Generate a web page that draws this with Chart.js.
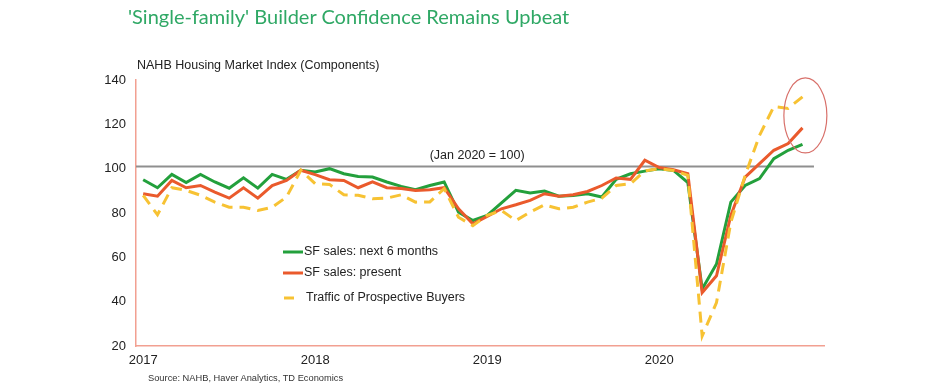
<!DOCTYPE html>
<html>
<head>
<meta charset="utf-8">
<script src="https://cdn.jsdelivr.net/npm/chart.js@4.4.1/dist/chart.umd.min.js"></script>
<style>
  html, body { margin: 0; padding: 0; background: #fff; }
  #wrap { position: relative; width: 945px; height: 386px; overflow: hidden; }
  #hmi-chart { position: absolute; left: 0; top: 0; }
  .title { position: absolute; left: 128px; top: 4px; font-family: Lato, sans-serif; font-size: 20px; color: #2fa865; white-space: nowrap; }
  .subtitle { position: absolute; left: 137px; top: 58px; font-family: "Liberation Sans", Arial, sans-serif; font-size: 12.5px; color: #222; white-space: nowrap; }
  .source { position: absolute; left: 148px; top: 373px; font-family: "Liberation Sans", Arial, sans-serif; font-size: 9.3px; color: #333; white-space: nowrap; }
</style>
</head>
<body>
<div id="wrap">
  <canvas id="hmi-chart" width="945" height="386"></canvas>
  <div class="title">'Single-family' Builder Confidence Remains Upbeat</div>
  <div class="subtitle">NAHB Housing Market Index (Components)</div>
  <div class="source">Source: NAHB, Haver Analytics, TD Economics</div>
</div>
<script>
// monthly, Jan 2017 - Nov 2020, index Jan 2020 = 100
const sfNext6 = [
  95.0, 91.4, 97.4, 93.7, 97.4, 94.0, 91.2, 95.9, 91.2, 97.4, 95.2, 99.3,
  98.5, 100.0, 97.7, 96.5, 96.2, 94.0, 92.0, 90.5, 92.4, 94.0, 80.4, 76.6,
  78.9, 84.6, 90.2, 89.0, 89.9, 87.6, 87.9, 88.7, 87.2, 95.2, 97.7, 98.9,
  100.0, 99.2, 93.7, 45.7, 57.0, 84.9, 92.4, 95.5, 104.5, 108.3, 111.0
];
const sfPresent = [
  88.7, 87.6, 94.7, 91.4, 92.4, 89.4, 86.7, 91.4, 86.7, 92.4, 94.7, 99.3,
  97.3, 95.0, 94.7, 91.4, 94.0, 91.4, 91.0, 90.2, 90.5, 91.4, 81.9, 75.1,
  78.5, 81.9, 83.7, 85.7, 88.7, 87.6, 88.2, 89.7, 92.4, 95.8, 95.2, 103.8,
  100.5, 99.5, 97.7, 44.1, 51.7, 78.9, 96.2, 102.3, 108.3, 111.3, 118.4
];
const traffic = [
  88.0, 79.2, 91.4, 90.2, 88.0, 84.9, 82.6, 82.6, 81.1, 82.6, 87.2, 99.3,
  93.2, 92.9, 88.2, 88.0, 86.4, 86.7, 88.2, 84.9, 85.0, 91.0, 78.1, 74.3,
  78.9, 81.1, 76.6, 80.4, 83.7, 81.9, 82.6, 84.9, 86.7, 92.4, 93.2, 99.0,
  100.0, 99.2, 97.0, 24.5, 39.6, 75.8, 97.0, 115.0, 128.0, 127.2, 132.4
];
const yearLabels = ['2017', '2018', '2019', '2020'];
const yTicks = [20, 40, 60, 80, 100, 120, 140];
const seriesNames = ['SF sales: next 6 months', 'SF sales: present', 'Traffic of Prospective Buyers'];
const refValue = 101;
const refSpan = [-0.5, 46.8];
const refLabel = '(Jan 2020 = 100)';
const refLabelAt = 23.3;
const circleAt = { x: 46.2, y: 124 };

const GREEN = '#23a03c';
const ORANGE = '#ea5a2c';
const YELLOW = '#f7c233';

const toPoints = arr => arr.map((v, i) => ({ x: i, y: v }));

// legend, reference label and the red circle drawn on top of the chart
const overlayPlugin = {
  id: 'overlay',
  afterDatasetsDraw(chart) {
    const { ctx, chartArea, scales } = chart;
    const xs = scales.x, ys = scales.y;
    ctx.save();

    // reference line label
    ctx.font = '12.5px "Liberation Sans", Arial, sans-serif';
    ctx.fillStyle = '#222';
    ctx.textAlign = 'center';
    ctx.textBaseline = 'middle';
    ctx.fillText(refLabel, xs.getPixelForValue(refLabelAt), ys.getPixelForValue(refValue) - 11);

    // circle around the latest readings
    ctx.beginPath();
    ctx.ellipse(xs.getPixelForValue(circleAt.x), ys.getPixelForValue(circleAt.y), 21.5, 37.5, 0, 0, Math.PI * 2);
    ctx.strokeStyle = '#d8706a';
    ctx.lineWidth = 1.2;
    ctx.stroke();

    // legend inside plot
    const lx = chartArea.left + 147;
    const rows = [172, 193, 218];
    const cols = [GREEN, ORANGE, YELLOW];
    ctx.textAlign = 'left';
    rows.forEach((dy, i) => {
      const y = chartArea.top + dy;
      ctx.beginPath();
      ctx.strokeStyle = cols[i];
      ctx.lineWidth = 3;
      if (i === 2) {
        ctx.moveTo(lx + 1, y);
        ctx.lineTo(lx + 11, y);
      } else {
        ctx.moveTo(lx, y);
        ctx.lineTo(lx + 20, y);
      }
      ctx.stroke();
      ctx.fillStyle = '#222';
      ctx.fillText(seriesNames[i], lx + (i === 2 ? 23 : 21), y);
    });
    ctx.restore();
  }
};

const ctx = document.getElementById('hmi-chart').getContext('2d');
new Chart(ctx, {
  type: 'line',
  data: {
    datasets: [
      {
        label: seriesNames[2],
        data: toPoints(traffic),
        borderColor: YELLOW,
        borderWidth: 3,
        borderDash: [11, 7],
        pointRadius: 0,
        tension: 0
      },
      {
        label: seriesNames[1],
        data: toPoints(sfPresent),
        borderColor: ORANGE,
        borderWidth: 3,
        pointRadius: 0,
        tension: 0
      },
      {
        label: seriesNames[0],
        data: toPoints(sfNext6),
        borderColor: GREEN,
        borderWidth: 3,
        pointRadius: 0,
        tension: 0
      },
      {
        label: 'ref',
        data: refSpan.map(x => ({ x: x, y: refValue })),
        borderColor: '#8f8f8f',
        borderWidth: 2,
        pointRadius: 0
      }
    ]
  },
  options: {
    responsive: false,
    animation: false,
    layout: { padding: { top: 80, right: 121, left: 0, bottom: 0 } },
    plugins: {
      legend: { display: false },
      tooltip: { enabled: false }
    },
    scales: {
      x: {
        type: 'linear',
        min: -0.5,
        max: 47.5,
        afterFit: scale => { scale.height = 40; },
        afterBuildTicks: scale => {
          scale.ticks = yearLabels.map((_, i) => ({ value: i * 12 }));
        },
        ticks: {
          padding: 7,
          color: '#222',
          font: { family: '"Liberation Sans", Arial, sans-serif', size: 13 },
          callback: (v) => yearLabels[Math.round(v / 12)]
        },
        grid: { display: false, drawTicks: false },
        border: { display: true, color: '#f2a091', width: 1.5 }
      },
      y: {
        min: 20,
        max: 140,
        afterFit: scale => { scale.width = 136; },
        afterBuildTicks: scale => {
          scale.ticks = yTicks.map(v => ({ value: v }));
        },
        ticks: {
          padding: 10,
          color: '#222',
          font: { family: '"Liberation Sans", Arial, sans-serif', size: 13 }
        },
        grid: { display: false, drawTicks: false },
        border: { display: true, color: '#f2a091', width: 1.5 }
      }
    }
  },
  plugins: [overlayPlugin]
});
</script>
</body>
</html>
